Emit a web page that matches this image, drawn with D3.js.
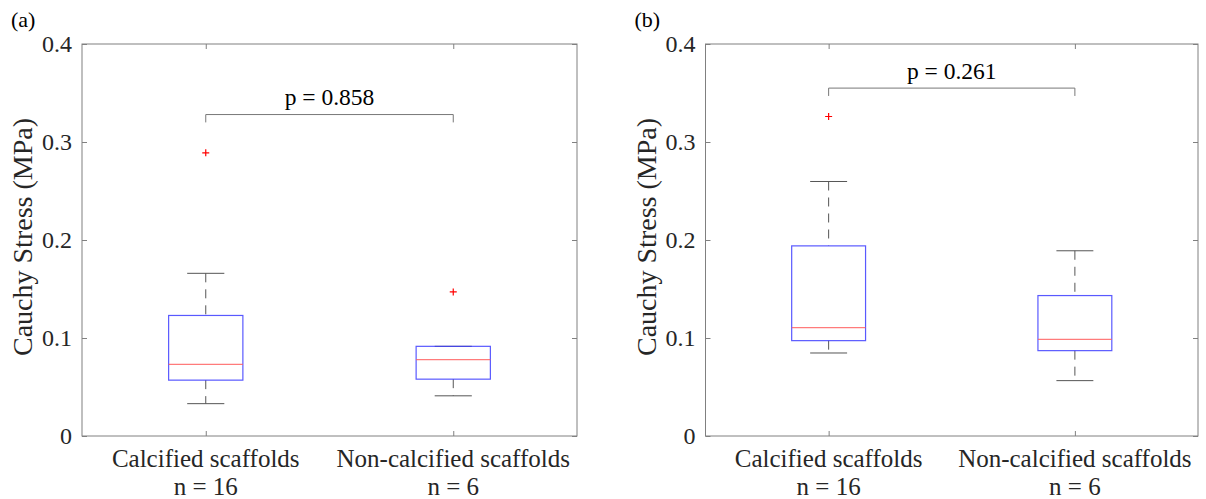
<!DOCTYPE html>
<html>
<head>
<meta charset="utf-8">
<script src="https://cdn.jsdelivr.net/npm/d3@7"></script>
<style>
  body { margin: 0; background: #fff; }
</style>
</head>
<body>
<div id="chart"></div>
<script>
// groups and sample sizes
const categories = ['Calcified scaffolds', 'Non-calcified scaffolds'];
const sampleSizes = [16, 6];
const yTicks = [0, 0.1, 0.2, 0.3, 0.4];

// panel (a) box stats, one entry per category
const lowA = [0.033, 0.041];
const q1A = [0.057, 0.058];
const medA = [0.073, 0.078];
const q3A = [0.123, 0.0915];
const highA = [0.166, 0.0915];
const outA = [[0.289], [0.147]];

// panel (b) box stats
const lowB = [0.0847, 0.0565];
const q1B = [0.0973, 0.0871];
const medB = [0.1105, 0.0985];
const q3B = [0.194, 0.1433];
const highB = [0.2597, 0.189];
const outB = [[0.326], []];

// significance brackets
const pValues = ['0.858', '0.261'];
const bracketY = [0.328, 0.355];

const width = 1206, height = 499;
const plotTop = 44, plotBottom = 436;
const FONT = 'Liberation Serif';

const svg = d3.select('#chart').append('svg')
  .attr('width', width)
  .attr('height', height)
  .style('display', 'block')
  .style('font-family', FONT);

const y = d3.scaleLinear().domain([0, 0.4]).range([plotBottom, plotTop]);

function drawPanel(opts) {
  const { left, right, tag, low, q1, med, q3, high, out, p, by } = opts;
  const x = d3.scaleLinear().domain([0.5, 2.5]).range([left, right]);
  const unit = x(1) - x(0);
  const boxW = unit * 0.3;
  const capW = boxW / 2;
  const g = svg.append('g');

  // panel tag
  svg.append('text')
    .attr('x', left - 71).attr('y', 27)
    .attr('font-size', 22).attr('fill', '#000')
    .style('font-family', FONT)
    .text(tag);

  // y label
  g.append('text')
    .attr('transform', `translate(${left - 50},237) rotate(-90)`)
    .attr('text-anchor', 'middle')
    .attr('font-size', 28).attr('fill', '#262626')
    .style('font-family', FONT)
    .text('Cauchy Stress (MPa)');

  // y ticks left & right (inward)
  const yAxisL = d3.axisLeft(y).tickValues(yTicks).tickSize(-5).tickPadding(10)
    .tickFormat(d => d === 0 ? '0' : d3.format('.1f')(d));
  const gl = g.append('g').attr('transform', `translate(${left},0)`).call(yAxisL)
    .attr('font-family', null);
  gl.select('.domain').remove();
  gl.selectAll('line').attr('stroke', '#808080');
  gl.selectAll('text').attr('font-size', 24).attr('fill', '#262626')
    .style('font-family', FONT);

  const yAxisR = d3.axisRight(y).tickValues(yTicks).tickSize(-5).tickFormat('');
  const gr = g.append('g').attr('transform', `translate(${right},0)`).call(yAxisR);
  gr.select('.domain').remove();
  gr.selectAll('line').attr('stroke', '#808080');

  // x ticks bottom & top (inward)
  const xAxisB = d3.axisBottom(x).tickValues([1, 2]).tickSize(-5).tickFormat('');
  const gb = g.append('g').attr('transform', `translate(0,${plotBottom})`).call(xAxisB);
  gb.select('.domain').remove();
  gb.selectAll('line').attr('stroke', '#808080');
  const xAxisT = d3.axisTop(x).tickValues([1, 2]).tickSize(-5).tickFormat('');
  const gt = g.append('g').attr('transform', `translate(0,${plotTop})`).call(xAxisT);
  gt.select('.domain').remove();
  gt.selectAll('line').attr('stroke', '#808080');

  // axes box
  g.append('rect')
    .attr('x', left).attr('y', plotTop)
    .attr('width', right - left).attr('height', plotBottom - plotTop)
    .attr('fill', 'none').attr('stroke', '#808080').attr('stroke-width', 1);

  // category labels
  categories.forEach((c, i) => {
    g.append('text')
      .attr('x', x(i + 1)).attr('y', 467)
      .attr('text-anchor', 'middle')
      .attr('font-size', 25).attr('fill', '#262626')
      .style('font-family', FONT)
      .text(c);
    g.append('text')
      .attr('x', x(i + 1)).attr('y', 494.5)
      .attr('text-anchor', 'middle')
      .attr('font-size', 25).attr('fill', '#262626')
      .style('font-family', FONT)
      .text(`n = ${sampleSizes[i]}`);
  });

  // whiskers
  categories.forEach((c, i) => {
    const cx = x(i + 1);
    [[q3[i], high[i]], [low[i], q1[i]]].forEach(([a, b]) => {
      if (b > a) {
        g.append('line')
          .attr('x1', cx).attr('x2', cx)
          .attr('y1', y(b)).attr('y2', y(a))
          .attr('stroke', '#555').attr('stroke-dasharray', '9,7');
      }
    });
    [low[i], high[i]].forEach(v => {
      g.append('line')
        .attr('x1', cx - capW / 2).attr('x2', cx + capW / 2)
        .attr('y1', y(v)).attr('y2', y(v))
        .attr('stroke', '#555');
    });
  });

  // boxes
  categories.forEach((c, i) => {
    const cx = x(i + 1);
    g.append('rect')
      .attr('x', cx - boxW / 2).attr('y', y(q3[i]))
      .attr('width', boxW).attr('height', y(q1[i]) - y(q3[i]))
      .attr('fill', 'none').attr('stroke', '#3c3cff').attr('stroke-width', 1.2)
      .attr('stroke-opacity', 0.85);
    g.append('line')
      .attr('x1', cx - boxW / 2).attr('x2', cx + boxW / 2)
      .attr('y1', y(med[i])).attr('y2', y(med[i]))
      .attr('stroke', '#ff5a5a').attr('stroke-width', 1.3).attr('stroke-opacity', 0.8);
    out[i].forEach(v => {
      g.append('path')
        .attr('d', `M${cx - 3.5},${y(v)}H${cx + 3.5}M${cx},${y(v) - 3.5}V${y(v) + 3.5}`)
        .attr('stroke', '#ff0000').attr('stroke-width', 1.2);
    });
  });

  // significance bracket
  const x1 = x(1), x2 = x(2);
  const yb = y(by), yd = y(by - 0.008);
  g.append('path')
    .attr('d', `M${x1},${yd}V${yb}H${x2}V${yd}`)
    .attr('fill', 'none').attr('stroke', '#777').attr('stroke-width', 1);
  g.append('text')
    .attr('x', (x1 + x2) / 2).attr('y', y(by + 0.0095))
    .attr('text-anchor', 'middle')
    .attr('font-size', 23.5).attr('fill', '#000')
    .style('font-family', FONT)
    .text(`p = ${p}`);
}

drawPanel({ left: 82, right: 577, tag: '(a)', low: lowA, q1: q1A, med: medA, q3: q3A, high: highA, out: outA, p: pValues[0], by: bracketY[0] });
drawPanel({ left: 705.5, right: 1198, tag: '(b)', low: lowB, q1: q1B, med: medB, q3: q3B, high: highB, out: outB, p: pValues[1], by: bracketY[1] });
</script>
</body>
</html>
